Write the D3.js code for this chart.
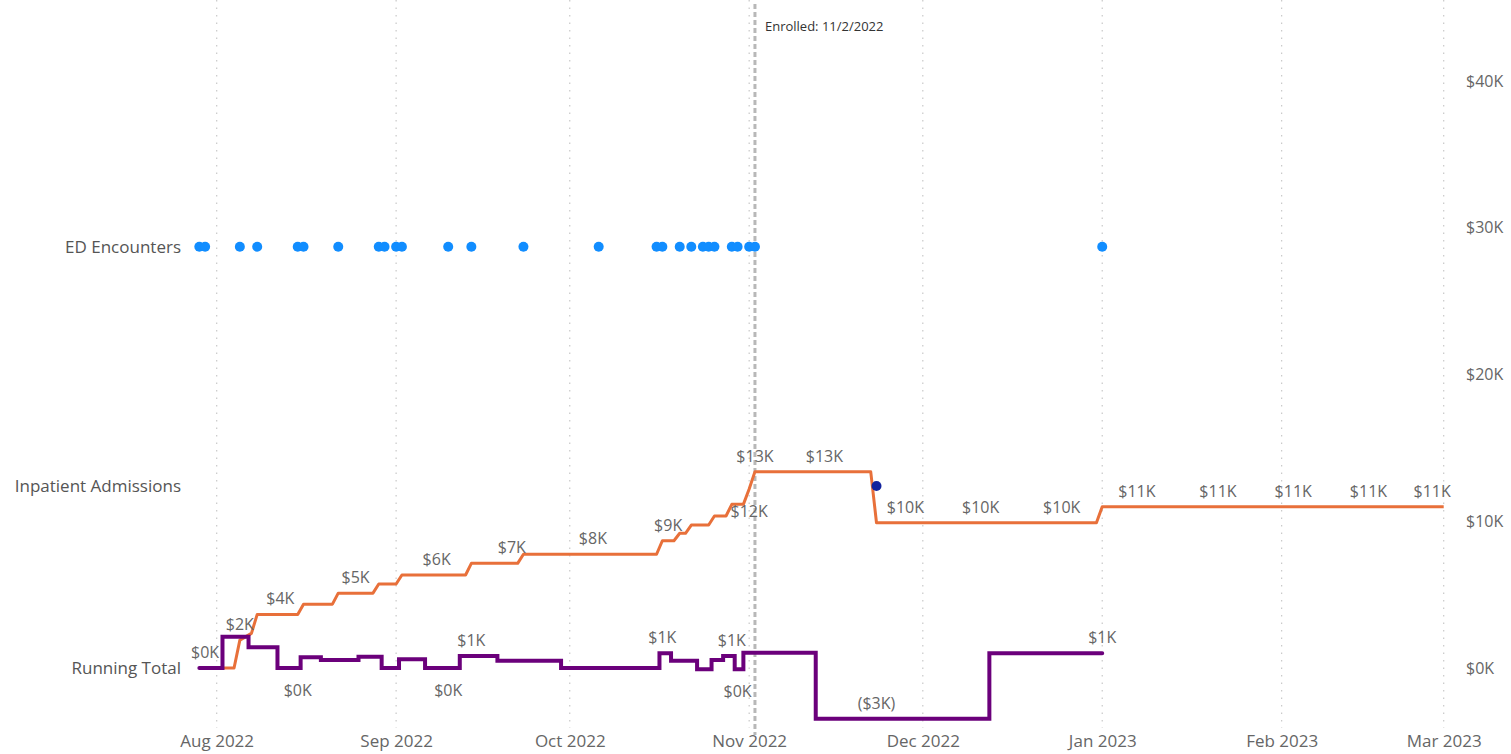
<!DOCTYPE html>
<html>
<head>
<meta charset="utf-8">
<script src="https://cdn.jsdelivr.net/npm/d3@7"></script>
<style>
  body { margin: 0; background: #fff; }
  text { font-family: "Open Sans", sans-serif; }
</style>
</head>
<body>
<div id="chart"></div>
<script>
const parse = d3.timeParse("%Y-%m-%d");

// row labels on the left and the value level each row sits at
const categories = ["ED Encounters", "Inpatient Admissions", "Running Total"];
const categoryLevels = [28700, 12400, 0];

const edDates = ["2022-07-29", "2022-07-30", "2022-08-05", "2022-08-08", "2022-08-15", "2022-08-16",
  "2022-08-22", "2022-08-29", "2022-08-30", "2022-09-01", "2022-09-02", "2022-09-10", "2022-09-14",
  "2022-09-23", "2022-10-06", "2022-10-16", "2022-10-17", "2022-10-20", "2022-10-22", "2022-10-24",
  "2022-10-25", "2022-10-26", "2022-10-29", "2022-10-30", "2022-11-01", "2022-11-02", "2023-01-01"];
const admissionDates = ["2022-11-23"];

// cumulative cost (orange)
const costDates = ["2022-07-29", "2022-08-04", "2022-08-05", "2022-08-07", "2022-08-08", "2022-08-12",
  "2022-08-15", "2022-08-16", "2022-08-21", "2022-08-22", "2022-08-25", "2022-08-28", "2022-08-29",
  "2022-09-01", "2022-09-02", "2022-09-08", "2022-09-13", "2022-09-14", "2022-09-21", "2022-09-22",
  "2022-09-23", "2022-10-05", "2022-10-16", "2022-10-17", "2022-10-18", "2022-10-19", "2022-10-20",
  "2022-10-21", "2022-10-22", "2022-10-25", "2022-10-26", "2022-10-28", "2022-10-29", "2022-10-31",
  "2022-11-01", "2022-11-02", "2022-11-14", "2022-11-22", "2022-11-23", "2022-11-28", "2022-12-11",
  "2022-12-25", "2022-12-31", "2023-01-01", "2023-01-07", "2023-01-21", "2023-02-03", "2023-02-16",
  "2023-02-27", "2023-03-01"];
const costValues = [0, 0, 1900, 2360, 3650, 3650,
  3650, 4350, 4350, 5100, 5100, 5100, 5720,
  5720, 6340, 6340, 6340, 7130, 7130, 7130,
  7750, 7750, 7750, 8670, 8670, 8670, 9180,
  9180, 9740, 9740, 10360, 10360, 11150, 11150,
  12200, 13380, 13380, 13380, 9900, 9900, 9900,
  9900, 9900, 10990, 10990, 10990, 10990, 10990,
  10990, 10990];
const costLabelDates = ["2022-08-05", "2022-08-12", "2022-08-25", "2022-09-08", "2022-09-21", "2022-10-05",
  "2022-10-18", "2022-11-01", "2022-11-02", "2022-11-14", "2022-11-28", "2022-12-11", "2022-12-25",
  "2023-01-07", "2023-01-21", "2023-02-03", "2023-02-16", "2023-02-27"];
const costLabelsBelow = ["2022-11-01"];

// running total (purple)
const runDates = ["2022-07-29", "2022-07-30", "2022-08-05", "2022-08-08", "2022-08-15", "2022-08-16",
  "2022-08-22", "2022-08-29", "2022-08-30", "2022-09-01", "2022-09-02", "2022-09-10", "2022-09-14",
  "2022-09-23", "2022-10-06", "2022-10-16", "2022-10-17", "2022-10-20", "2022-10-22", "2022-10-24",
  "2022-10-25", "2022-10-26", "2022-10-29", "2022-10-30", "2022-11-01", "2022-11-02", "2022-11-23",
  "2023-01-01"];
const runValues = [0, 0, 2130, 1410, 0, 730,
  550, 770, 0, 0, 590, 0, 820,
  500, 0, 0, 1000, 500, 500, -90,
  -90, 550, 820, -90, 1040, 1040, -3450,
  1000];
const runLabelDates = ["2022-07-30", "2022-08-15", "2022-09-10", "2022-09-14", "2022-10-17",
  "2022-10-29", "2022-10-30", "2022-11-23", "2023-01-01"];
const runLabelsBelow = ["2022-08-15", "2022-09-10", "2022-10-30"];

const enrolledDate = "2022-11-02";
const yTicks = [0, 10000, 20000, 30000, 40000];

const width = 1511, height = 754;

const svg = d3.select("#chart").append("svg")
  .attr("width", width)
  .attr("height", height);

const x = d3.scaleTime()
  .domain([parse("2022-08-01"), parse("2023-03-01")])
  .range([216.7, 1443.7]);
const y = d3.scaleLinear()
  .domain([0, 40000])
  .range([668, 81]);

const fmtK = v => {
  const k = Math.round(v / 1000);
  return k < 0 ? `($${-k}K)` : `$${Math.abs(k)}K`;
};

const cost = costDates.map((d, i) => ({ date: parse(d), value: costValues[i] }));
const run = runDates.map((d, i) => ({ date: parse(d), value: runValues[i] }));

// month gridlines
const months = d3.timeMonth.range(parse("2022-08-01"), parse("2023-03-02"));
svg.append("g").selectAll("line").data(months).join("line")
  .attr("x1", d => x(d)).attr("x2", d => x(d))
  .attr("y1", 0).attr("y2", 728)
  .attr("stroke", "#c8c8c8")
  .attr("stroke-width", 1.2)
  .attr("stroke-dasharray", "1.5,6");

// x axis
const xAxis = svg.append("g")
  .attr("transform", "translate(0,729)")
  .call(d3.axisBottom(x).tickValues(months).tickFormat(d3.timeFormat("%b %Y")).tickSize(0).tickPadding(6));
xAxis.select(".domain").remove();
xAxis.selectAll("text").attr("font-size", 17).attr("fill", "#666").attr("font-family", "Open Sans");

// right value axis
const yAxis = svg.append("g")
  .attr("transform", "translate(1460,0)")
  .call(d3.axisRight(y).tickValues(yTicks).tickFormat(fmtK).tickSize(0).tickPadding(6));
yAxis.select(".domain").remove();
yAxis.selectAll("text").attr("font-size", 16).attr("fill", "#666").attr("font-family", "Open Sans");

// left category labels
svg.append("g").selectAll("text").data(categories).join("text")
  .attr("x", 181)
  .attr("y", (d, i) => y(categoryLevels[i]))
  .attr("dy", "0.35em")
  .attr("text-anchor", "end")
  .attr("font-size", 17)
  .attr("fill", "#555")
  .text(d => d);

// enrollment marker
const ex = x(parse(enrolledDate));
svg.append("line")
  .attr("x1", ex).attr("x2", ex)
  .attr("y1", 4).attr("y2", 735)
  .attr("stroke", "#b8b8b8")
  .attr("stroke-width", 3)
  .attr("stroke-dasharray", "5,3");
svg.append("text")
  .attr("x", ex + 10).attr("y", 31)
  .attr("font-size", 13)
  .attr("fill", "#333")
  .text("Enrolled: " + d3.timeFormat("%-m/%-d/%Y")(parse(enrolledDate)));

// cost line
svg.append("path")
  .datum(cost)
  .attr("fill", "none")
  .attr("stroke", "#e8703a")
  .attr("stroke-width", 3)
  .attr("stroke-linejoin", "round")
  .attr("d", d3.line().x(d => x(d.date)).y(d => y(d.value)));

// running total step line
svg.append("path")
  .datum(run)
  .attr("fill", "none")
  .attr("stroke", "#6b007b")
  .attr("stroke-width", 4)
  .attr("stroke-linecap", "round")
  .attr("d", d3.line().curve(d3.curveStep).x(d => x(d.date)).y(d => y(d.value)));

// ED encounter dots
svg.append("g").selectAll("circle").data(edDates).join("circle")
  .attr("cx", d => x(parse(d)))
  .attr("cy", y(categoryLevels[0]))
  .attr("r", 5)
  .attr("fill", "#118dff");

// inpatient admission dots
svg.append("g").selectAll("circle").data(admissionDates).join("circle")
  .attr("cx", d => x(parse(d)))
  .attr("cy", y(categoryLevels[1]))
  .attr("r", 5)
  .attr("fill", "#12239e");

// data labels
function addLabels(series, dates, below) {
  const byDate = new Map(series.map(p => [+p.date, p.value]));
  svg.append("g").selectAll("text").data(dates).join("text")
    .attr("x", d => x(parse(d)))
    .attr("y", d => y(byDate.get(+parse(d))) + (below.includes(d) ? 28 : -10))
    .attr("text-anchor", "middle")
    .attr("font-size", 16)
    .attr("fill", "#666")
    .text(d => fmtK(byDate.get(+parse(d))));
}
addLabels(cost, costLabelDates, costLabelsBelow);
addLabels(run, runLabelDates, runLabelsBelow);
</script>
</body>
</html>
